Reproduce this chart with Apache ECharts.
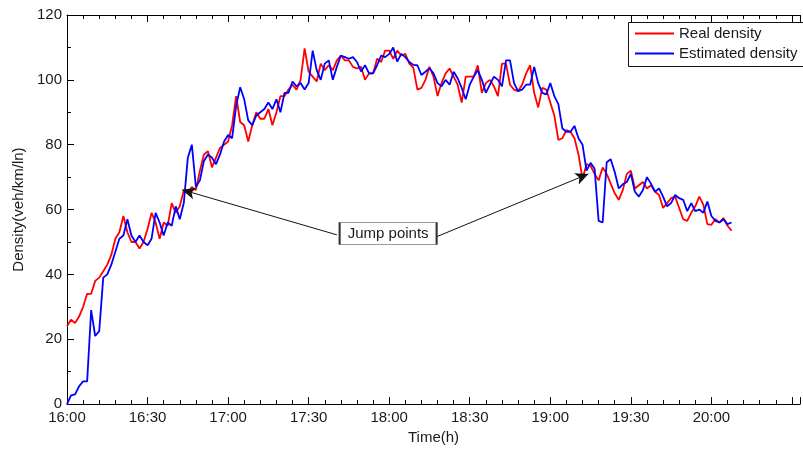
<!DOCTYPE html>
<html><head><meta charset="utf-8">
<script src="https://cdn.jsdelivr.net/npm/echarts@6/dist/echarts.min.js"></script>
<style>html,body{margin:0;padding:0;background:#fff}#c{width:803px;height:450px}</style>
</head><body><div id="c"></div>
<script>
// sampling step (minutes after 16:00)
const stepMinutes = 1.5;

const realDensity = [
24,26,25,27,30,34,34,38,39,41,43,46,51,53,58,53,50,50,48,50,
54,59,56,51,56,55,62,59,61,66,65,67,66,72,77,78,73,76,79,80,
81,86,95,87,86,81,86,90,88,88,91,86,90,95,95,97,98.5,97,100,109.7,
102.5,101,99.5,105,103,104.5,103,106,107.5,106,106,104,103.5,104,100,102,102,106.5,105.5,109,
109,106.5,109,107.5,108,105,103.7,97,97.5,100,104,101,95,99,102,103.5,101,98.5,93,101,
101,101,104.5,96,99,100,98,95,105,105,98.5,97,96.5,98.5,102,104.5,96,91.5,97.5,97,
93,89,81.5,82,84.5,84,82,77,69.5,74,73.5,71,69,73,71,68,65,63,66,71,
72,66.5,67.5,68.5,66.5,67.5,65.5,64.5,60.5,62,63.5,64,60.5,57,56.5,59,61,64,61.5,55.5,
55.3,57,56,57.4,55,53.5
];

const estimatedDensity = [
0,2.7,3,5.5,7,7,29,21,22.5,39,40,43,47,51,52,57,52,50,52,50,
49,51,59,56,52,56,55,61,57,62,76,80,67,69,75,77,76,74,77,81,
83,82,92,97.7,94,87.5,86,89,90,91,93,91,94,90,96,96,99.5,98,99,97,
99,109,103,100,105,106,100,104,107.5,107,106.5,107,105.5,102.6,104.5,102,102,104.5,107.5,107,
108,110,105.6,108,107,105.5,104.6,104.5,101.5,102.5,103.6,102,99,98,100,98.5,102.5,100.5,97.5,94,
98.5,101,103,100,96,98.5,101,100,98,106,106,99,96.5,97,98.5,98.5,104,99,96,95.5,
99,95,92.5,85,84,84,85.8,82,80,72,74.4,72.6,56.5,56,74.6,75.5,71.6,66.5,67.8,68.5,
71,65.5,64,66,70,68,65.5,66.5,64,61,62,64.5,63.5,63,59.5,62,59.5,60,59,62.5,
58,56.5,56,57,55.5,56
];

const xTickLabels = ['16:00','16:30','17:00','17:30','18:00','18:30','19:00','19:30','20:00'];
const seriesNames = ['Real density','Estimated density'];
const annotationText = 'Jump points';
// annotation anchors in data coordinates [minutes, density]
const jumpArrows = [
  [[100.5, 52.2], [42.9, 66.1]],
  [[137.6, 51.6], [194.2, 71.0]]
];
const jumpLabelPos = [119.6, 52.6];

const FONT = '"Liberation Sans", Arial, sans-serif';
const TXT = '#1a1a1a';
const toPairs = arr => arr.map((v, i) => [i * stepMinutes, v]);

const chart = echarts.init(document.getElementById('c'), null, {renderer: 'canvas'});
const xCommon = {
  type: 'value', min: 0, max: 273, interval: 30,
  axisLine: {onZero: false, lineStyle: {color: '#000', width: 1}},
  axisTick: {inside: true, length: 7, lineStyle: {color: '#000'}},
  minorTick: {show: true, splitNumber: 5, length: 4, lineStyle: {color: '#000'}},
  splitLine: {show: false}, minorSplitLine: {show: false}
};
chart.setOption({
  animation: false,
  backgroundColor: '#fff',
  grid: {left: 67, top: 15, width: 740, height: 393, containLabel: false},
  graphic: [
    {type: 'rect', z: 3, silent: true,
     shape: {x: 628, y: 22, width: 190, height: 44},
     style: {fill: '#fff', stroke: null}},
    {type: 'polyline', z: 4, silent: true,
     shape: {points: [[830, 22.5], [628.5, 22.5], [628.5, 66.5], [830, 66.5]]},
     style: {stroke: '#111', lineWidth: 1, fill: null}}
  ],
  legend: {
    left: 628, top: 22, orient: 'vertical', icon: 'rect',
    itemWidth: 39, itemHeight: 2, itemGap: 5,
    padding: [4, 0, 6, 7], z: 5,
    borderWidth: 0, backgroundColor: 'transparent',
    textStyle: {fontSize: 15, color: TXT, fontFamily: FONT},
    data: seriesNames
  },
  xAxis: [
    Object.assign({}, xCommon, {
      position: 'bottom',
      axisLabel: {formatter: v => (v % 30 === 0 && xTickLabels[v / 30]) || '', color: TXT, fontSize: 15, fontFamily: FONT, margin: 6},
      name: 'Time(h)', nameLocation: 'middle', nameGap: 23,
      nameTextStyle: {fontSize: 15, color: TXT, fontFamily: FONT}
    }),
    Object.assign({}, xCommon, {position: 'top', axisLabel: {show: false}})
  ],
  yAxis: {
    type: 'value', min: 0, max: 120, interval: 20,
    axisLine: {show: true, onZero: false, lineStyle: {color: '#000', width: 1}},
    axisTick: {show: true, inside: true, length: 7, lineStyle: {color: '#000'}},
    minorTick: {show: true, splitNumber: 2, length: 4, lineStyle: {color: '#000'}},
    splitLine: {show: false},
    axisLabel: {color: TXT, fontSize: 15, fontFamily: FONT, margin: 5},
    name: 'Density(veh/km/ln)', nameLocation: 'middle', nameGap: 39,
    nameTextStyle: {fontSize: 15, color: TXT, fontFamily: FONT}
  },
  series: [
    {
      name: seriesNames[0], type: 'line', data: toPairs(realDensity),
      symbol: 'none', showSymbol: false,
      lineStyle: {color: '#ff0000', width: 1.8}, itemStyle: {color: '#ff0000'}, z: 2
    },
    {
      name: seriesNames[1], type: 'line', data: toPairs(estimatedDensity),
      symbol: 'none', showSymbol: false,
      lineStyle: {color: '#0000ff', width: 1.8}, itemStyle: {color: '#0000ff'}, z: 3,
      markLine: {
        silent: true, symbol: ['none', 'arrow'], symbolSize: [9, 13],
        lineStyle: {color: '#111', width: 1, type: 'solid'},
        label: {show: false},
        data: jumpArrows.map(a => [{coord: a[0]}, {coord: a[1]}])
      },
      markPoint: {
        silent: true, symbol: 'rect', symbolSize: [97, 22],
        itemStyle: {color: '#fff', borderColor: '#333', borderWidth: 1},
        label: {show: true, position: 'inside', formatter: annotationText, color: TXT, fontSize: 15, fontFamily: FONT},
        data: [{coord: jumpLabelPos}]
      }
    }
  ]
});
</script></body></html>
